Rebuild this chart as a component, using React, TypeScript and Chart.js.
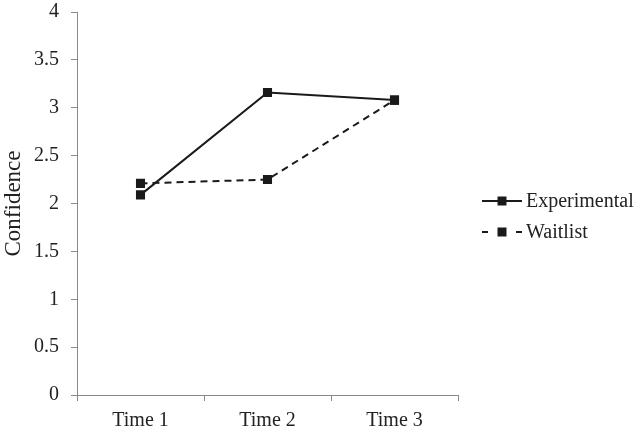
import React, { useEffect, useRef } from "react";
import { Chart, registerables } from "chart.js";

Chart.register(...registerables);

const categories = ["Time 1", "Time 2", "Time 3"];
const experimental = [2.09, 3.16, 3.08];
const waitlist = [2.21, 2.25, 3.08];
const seriesNames = ["Experimental", "Waitlist"];
const yTitle = "Confidence";

const FONT = "'Liberation Serif', 'Times New Roman', serif";
const AXIS_COLOR = "#898989";
const TEXT_COLOR = "#222222";

const legendPlugin = {
  id: "customLegend",
  afterDraw(chart: any) {
    const ctx = chart.ctx;
    const items = chart.data.datasets;
    const x0 = 482;
    const ys = [201, 232];
    ctx.save();
    items.forEach((ds: any, i: number) => {
      const y = ys[i];
      ctx.strokeStyle = ds.borderColor;
      ctx.lineWidth = 2;
      ctx.setLineDash([]);
      ctx.beginPath();
      if (ds.borderDash && ds.borderDash.length) {
        ctx.moveTo(x0, y);
        ctx.lineTo(x0 + 6, y);
        ctx.moveTo(x0 + 34, y);
        ctx.lineTo(x0 + 40, y);
      } else {
        ctx.moveTo(x0, y);
        ctx.lineTo(x0 + 40, y);
      }
      ctx.stroke();
      ctx.fillStyle = ds.pointBackgroundColor;
      ctx.fillRect(x0 + 20 - 4.5, y - 4.5, 9, 9);
      ctx.fillStyle = TEXT_COLOR;
      ctx.font = `20px ${FONT}`;
      ctx.textBaseline = "middle";
      ctx.textAlign = "left";
      ctx.fillText(ds.label, x0 + 44, y + 1);
    });
    ctx.restore();
  },
};

export default function App() {
  const ref = useRef<HTMLCanvasElement>(null);
  useEffect(() => {
    document.body.style.margin = "0";
    const chart = new Chart(ref.current!, {
      type: "line",
      data: {
        labels: categories,
        datasets: [
          {
            label: seriesNames[0],
            data: experimental,
            borderColor: "#1a1a1a",
            backgroundColor: "#1a1a1a",
            pointBackgroundColor: "#1a1a1a",
            pointBorderColor: "#1a1a1a",
            borderWidth: 2,
            pointStyle: "rect",
            pointRadius: 5,
            tension: 0,
          },
          {
            label: seriesNames[1],
            data: waitlist,
            borderColor: "#1a1a1a",
            backgroundColor: "#1a1a1a",
            pointBackgroundColor: "#1a1a1a",
            pointBorderColor: "#1a1a1a",
            borderWidth: 2,
            borderDash: [7, 5],
            pointStyle: "rect",
            pointRadius: 5,
            tension: 0,
          },
        ],
      },
      options: {
        animation: false,
        responsive: false,
        layout: { padding: { top: 0, right: 182, left: 0, bottom: 0 } },
        plugins: { legend: { display: false }, tooltip: { enabled: false } },
        scales: {
          x: {
            offset: true,
            border: { color: AXIS_COLOR, width: 1 },
            grid: {
              offset: true,
              drawOnChartArea: false,
              drawTicks: true,
              tickLength: 6,
              color: AXIS_COLOR,
            },
            ticks: {
              color: TEXT_COLOR,
              font: { family: FONT, size: 20 },
              padding: 8,
              maxRotation: 0,
            },
            afterFit(scale: any) {
              scale.height = 39;
            },
          },
          y: {
            min: 0,
            max: 4,
            border: { color: AXIS_COLOR, width: 1 },
            grid: {
              drawOnChartArea: false,
              drawTicks: true,
              tickLength: 6,
              color: AXIS_COLOR,
            },
            ticks: {
              stepSize: 0.5,
              color: TEXT_COLOR,
              font: { family: FONT, size: 20 },
              padding: 12,
              callback: (v: any) => String(v),
            },
            title: {
              display: true,
              text: yTitle,
              color: TEXT_COLOR,
              font: { family: FONT, size: 23 },
              padding: 0,
            },
            afterFit(scale: any) {
              scale.width = 77;
              scale.paddingTop = 12;
              scale.paddingBottom = 0;
            },
          },
        },
      },
      plugins: [legendPlugin],
    });
    return () => chart.destroy();
  }, []);
  return (
    <div style={{ position: "fixed", left: 0, top: 0, width: 640, height: 434, background: "#fff" }}>
      <canvas ref={ref} width={640} height={434} />
    </div>
  );
}
